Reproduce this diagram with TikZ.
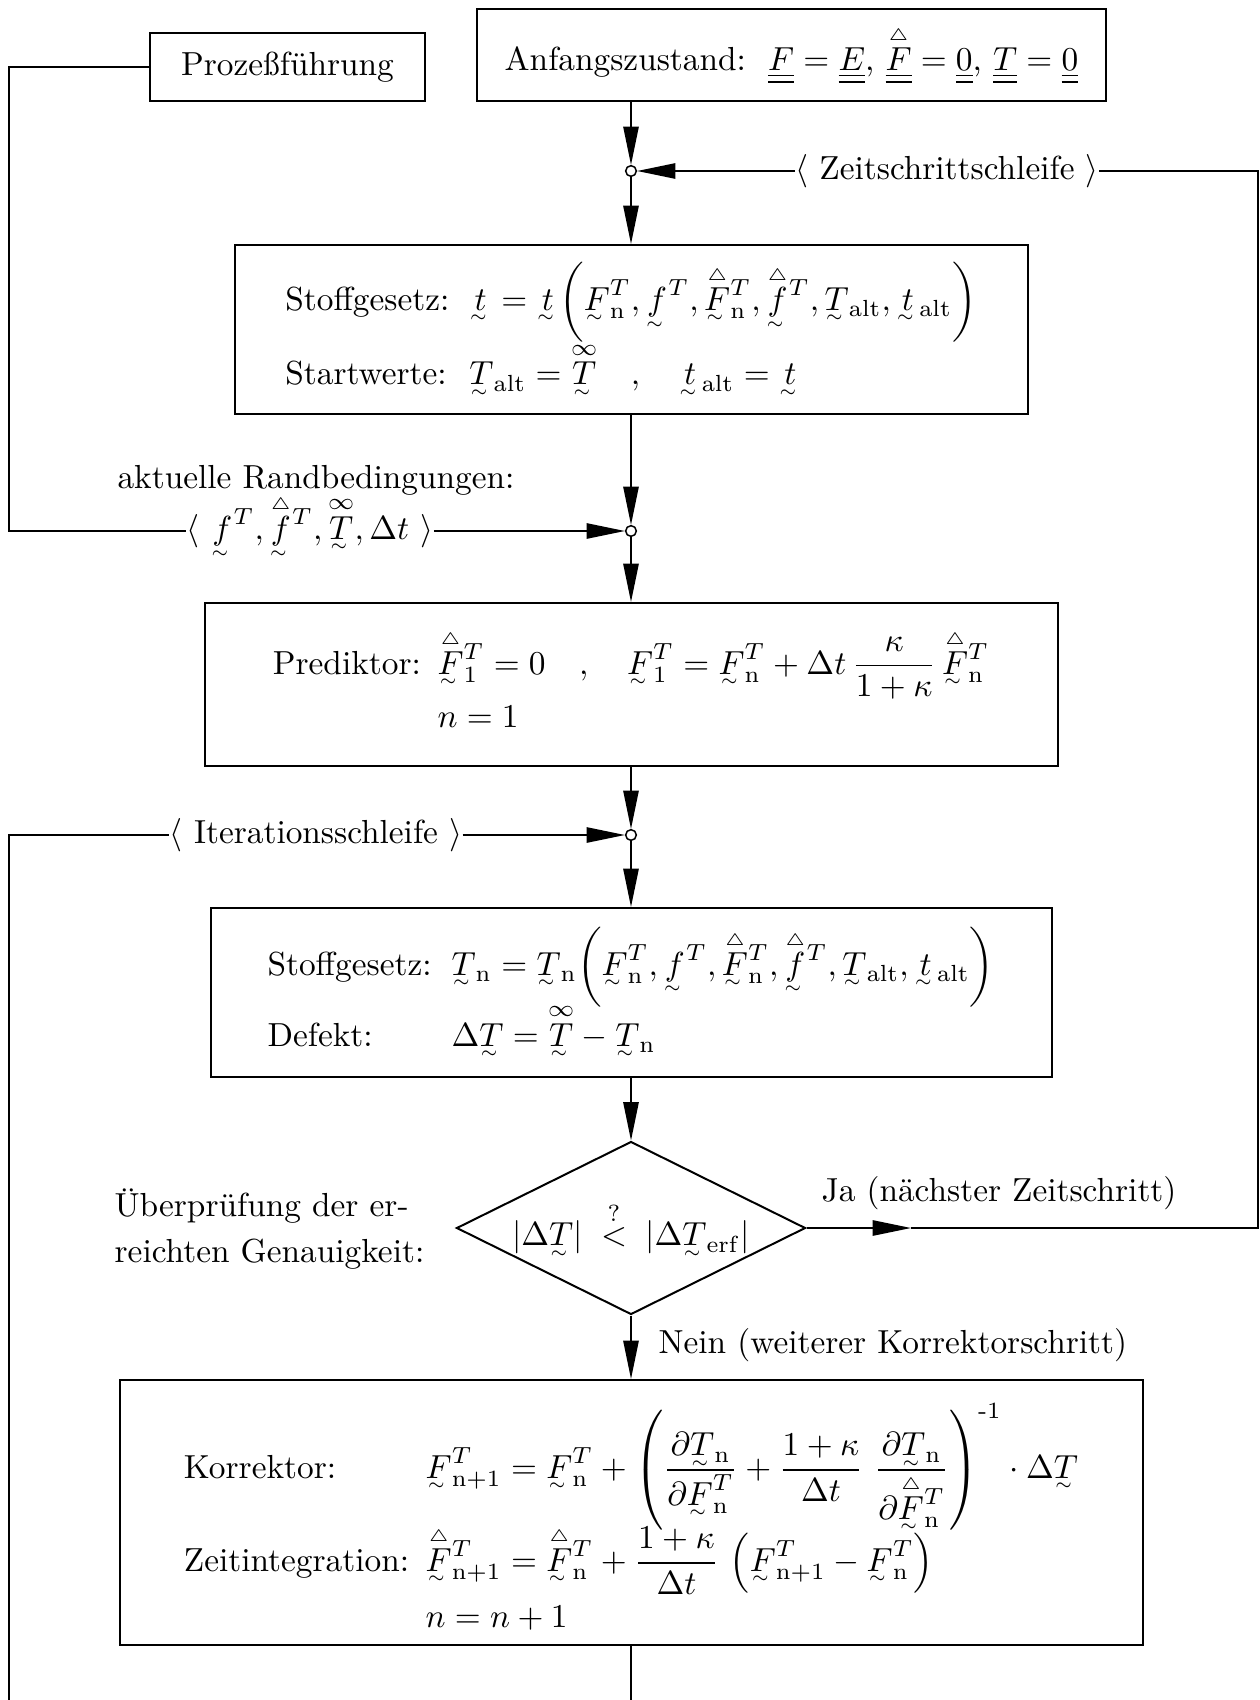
\documentclass[tikz,border=0pt]{standalone}
\usepackage{amsmath}
\usetikzlibrary{arrows.meta,shapes.geometric}

\newcommand{\ut}[1]{\mathord{\setbox0=\vtop{\offinterlineskip\halign{\hfil##\hfil\cr$\textstyle#1$\cr\noalign{\kern1.4pt}$\scriptscriptstyle\sim$\kern1.4pt\cr}}\dp0=\dimexpr\dp0-2pt\relax\box0}}
\newcommand{\dul}[1]{\underline{\underline{#1}}}
\newcommand{\tri}[1]{\vphantom{\overset{\scriptscriptstyle\triangle}{#1}}{\smash[t]{\overset{\scriptscriptstyle\triangle}{#1}}\vphantom{#1}}}
\newcommand{\ovinf}[1]{\vphantom{\overset{\infty}{#1}}{\smash[t]{\overset{\infty}{#1}}\vphantom{#1}}}
\newcommand{\rmm}[1]{\mathrm{#1}}

\begin{document}
\begin{tikzpicture}[x=0.3pt,y=-0.3pt,
  box/.style={draw, line width=0.6pt, inner sep=0pt, align=center},
  ln/.style={line width=0.5pt},
  arr/.style={ln, -{Triangle[length=11.5pt,width=4.6pt]}},
  junc/.style={circle, draw, line width=0.45pt, fill=white, inner sep=0pt, minimum size=3.2pt},
  lbl/.style={inner sep=0pt}]
\useasboundingbox (0,0) rectangle (1260,1700);

% nodes
\node[box, minimum width=82.5pt, minimum height=20.4pt] (proz) at (287.5,67) {Prozeßführung};
\node[box, minimum width=188.7pt, minimum height=27.6pt] (anf) at (791.5,55)
  {Anfangszustand:\ \ $\dul{F} = \dul{E}$, $\tri{\dul{F}} = \dul{0}$, $\dul{T} = \dul{0}$};

\node[junc] (j1) at (631,171) {};
\node[lbl] (zeit) at (947,171) {$\langle$ Zeitschrittschleife $\rangle$};

\node[box, minimum width=237.9pt, minimum height=50.7pt] (b2) at (631,329.5)
  {\begin{tabular}{@{}l@{\hspace{6pt}}l@{}}
   Stoffgesetz: & $\ut{t} = \ut{t}\biggl(\ut{F}^T_{\rmm{n}}, \ut{f}^T, \tri{\ut{F}}^T_{\rmm{n}}, \tri{\ut{f}}^T, \ut{T}_{\rmm{alt}}, \ut{t}_{\rmm{alt}}\biggr)$\\[0pt]
   Startwerte: & $\ut{T}_{\rmm{alt}} = \ovinf{\ut{T}}\quad ,\quad \ut{t}_{\rmm{alt}} = \ut{t}$
   \end{tabular}};

\node[junc] (j2) at (631,531) {};
\node[lbl] (akt) at (316,480) {aktuelle Randbedingungen:};
\node[lbl] (rand) at (310,531) {$\langle\ \smash{\ut{f}^T, \tri{\ut{f}}^T, \ovinf{\ut{T}}, \Delta t}\ \rangle$};

\node[box, minimum width=255.9pt, minimum height=48.9pt] (b3) at (631,684.5)
  {\begin{tabular}{@{}l@{\hspace{5pt}}l@{}}
   Prediktor: & $\tri{\ut{F}}^T_1 = 0 \quad ,\quad \ut{F}^T_1 = \ut{F}^T_{\rmm{n}} + \Delta t\,\dfrac{\kappa}{1+\kappa}\,\tri{\ut{F}}^T_{\rmm{n}}$\\
    & $n = 1$
   \end{tabular}};

\node[junc] (j3) at (631,835) {};
\node[lbl] (iter) at (316,835) {$\langle$ Iterationsschleife $\rangle$};

\node[box, minimum width=252.3pt, minimum height=50.7pt] (b4) at (631,992.5)
  {\begin{tabular}{@{}l@{\hspace{6pt}}l@{}}
   Stoffgesetz: & $\ut{T}_{\rmm{n}} = \ut{T}_{\rmm{n}}\biggl(\ut{F}^T_{\rmm{n}}, \ut{f}^T, \tri{\ut{F}}^T_{\rmm{n}}, \tri{\ut{f}}^T, \ut{T}_{\rmm{alt}}, \ut{t}_{\rmm{alt}}\biggr)$\\[-1pt]
   Defekt: & $\Delta\ut{T} = \ovinf{\ut{T}} - \ut{T}_{\rmm{n}}$
   \end{tabular}};

\node[draw, line width=0.6pt, shape=diamond, aspect=2, inner sep=0pt,
      minimum width=104.7pt, minimum height=51.9pt] (dia) at (631,1228)
  {$|\Delta\ut{T}| \;\overset{?}{<}\; |\Delta\ut{T}_{\rmm{erf}}|$};

\node[lbl, align=left, anchor=west] (ueb) at (114,1229) {Überprüfung der er-\\[2pt]reichten Genauigkeit:};
\node[lbl, anchor=west] (ja) at (821,1193) {Ja (nächster Zeitschritt)};
\node[lbl, anchor=west] (nein) at (658,1345) {Nein (weiterer Korrektorschritt)};

\node[box, minimum width=306.9pt, minimum height=79.5pt] (b5) at (631,1512.5)
  {\begin{tabular}{@{}l@{\hspace{5pt}}l@{}}
   \rule{0pt}{28pt}Korrektor: & $\ut{F}^T_{\rmm{n+1}} = \ut{F}^T_{\rmm{n}} + \left(\dfrac{\partial \ut{T}_{\rmm{n}}}{\partial \ut{F}^T_{\rmm{n}}} + \dfrac{1+\kappa}{\Delta t}\ \dfrac{\partial\ut{T}_{\rmm{n}}}{\partial\tri{\ut{F}}^T_{\rmm{n}}}\right)^{\text{-1}}\cdot\Delta\ut{T}$\\[-1pt]
   Zeitintegration: & $\tri{\ut{F}}^T_{\rmm{n+1}} = \tri{\ut{F}}^T_{\rmm{n}} + \dfrac{1+\kappa}{\Delta t}\ \Bigl(\ut{F}^T_{\rmm{n+1}} - \ut{F}^T_{\rmm{n}}\Bigr)$\\[5pt]
    & $n = n + 1$
   \end{tabular}};

% helper coordinates
\coordinate (leftx) at (9,0);
\coordinate (ibot) at (9,1700);
\coordinate (bbot) at (631,1700);
\coordinate (jatip) at (911,1228);
\coordinate (rc) at (1258,1228);

% connectors
\draw[arr] (anf.south -| j1) -- (j1.north);
\draw[arr] (zeit.west) -- (j1.east);
\draw[arr] (j1.south) -- (b2.north);
\draw[arr] (b2.south) -- (j2.north);
\draw[ln] (proz.west) -- (proz.west -| leftx) |- (rand.west);
\draw[arr] (rand.east) -- (j2.west);
\draw[arr] (j2.south) -- (b3.north);
\draw[arr] (b3.south) -- (j3.north);
\draw[ln] (ibot) |- (iter.west);
\draw[arr] (iter.east) -- (j3.west);
\draw[arr] (j3.south) -- (b4.north);
\draw[arr] (b4.south) -- (dia.north);
\draw[arr] (dia.south) -- (b5.north);
\draw[ln] (b5.south) -- (bbot);
\draw[arr] (dia.east) -- (jatip);
\draw[ln] (jatip) -- (rc) |- (zeit.east);
\end{tikzpicture}
\end{document}
